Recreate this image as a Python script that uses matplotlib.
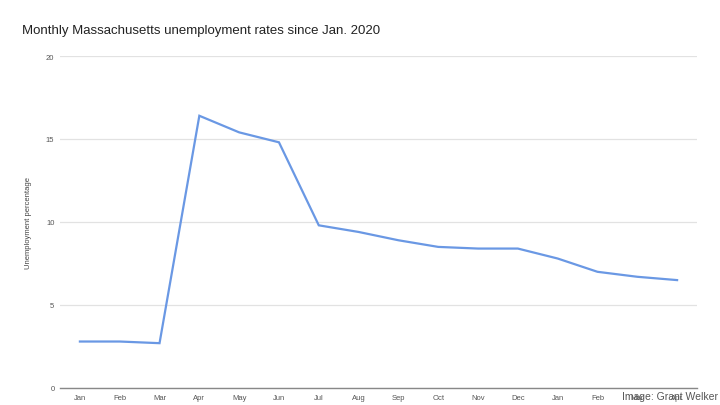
import matplotlib
matplotlib.use("Agg")
import matplotlib.pyplot as plt

plt.rcParams["font.family"] = ["Liberation Sans", "DejaVu Sans"]

# Monthly unemployment rate, Jan 2020 - Apr 2021
months = ["Jan", "Feb", "Mar", "Apr", "May", "Jun", "Jul", "Aug",
          "Sep", "Oct", "Nov", "Dec", "Jan", "Feb", "Mar", "Apr"]
rates = [2.8, 2.8, 2.7, 16.4, 15.4, 14.8, 9.8, 9.4,
         8.9, 8.5, 8.4, 8.4, 7.8, 7.0, 6.7, 6.5]
y_ticks = [0, 5, 10, 15, 20]

fig = plt.figure(figsize=(7.2, 4.06), dpi=100)
ax = fig.add_axes([60 / 720, 1 - 389 / 406, 637 / 720, 332 / 406])

x = list(range(len(months)))
ax.plot(x, rates, color="#6a98e4", lw=1.6, solid_joinstyle="miter")

ax.set_xlim(-0.5, len(months) - 0.5)
ax.set_ylim(0, 20)
ax.set_yticks(y_ticks)
ax.set_yticklabels([str(v) for v in y_ticks], fontsize=5.5, color="#555555")
ax.set_xticks(x)
ax.set_xticklabels(months, fontsize=5.5, color="#555555")
ax.tick_params(axis="x", length=0, pad=4)
ax.tick_params(axis="y", length=0, pad=4)

ax.grid(axis="y", color="#e2e2e2", lw=0.9)
ax.set_axisbelow(True)
for side in ["top", "right", "left"]:
    ax.spines[side].set_visible(False)
ax.spines["bottom"].set_color("#888888")
ax.spines["bottom"].set_linewidth(1.0)

ax.set_ylabel("Unemployment percentage", fontsize=5.5, color="#444444")
ax.yaxis.set_label_coords(-28 / 637, 0.5)

fig.text(22 / 720, 1 - 31 / 406, "Monthly Massachusetts unemployment rates since Jan. 2020",
         fontsize=9.5, color="#222222", va="center", ha="left")

fig.text(718 / 720, 1 - 397 / 406, "Image: Grant Welker", fontsize=7.5,
         color="#555555", va="center", ha="right")

fig.savefig("out.png", dpi=100, facecolor="white")
